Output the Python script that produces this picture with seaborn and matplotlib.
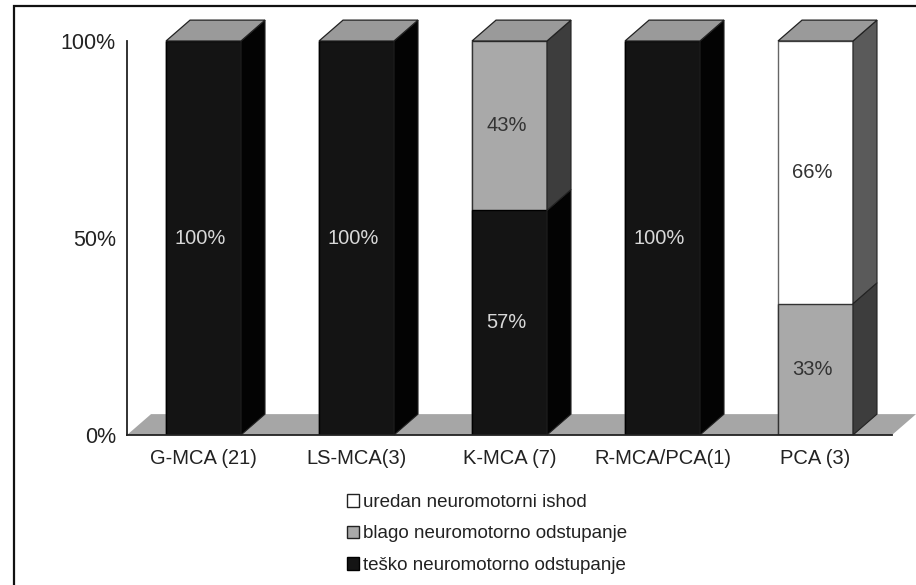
import numpy as np
import pandas as pd
import matplotlib.pyplot as plt
import seaborn as sns
from matplotlib.patches import Polygon, Patch, Rectangle

categories = ['G-MCA (21)', 'LS-MCA(3)', 'K-MCA (7)', 'R-MCA/PCA(1)', 'PCA (3)']
tesko = [100, 100, 57, 100, 0]
blago = [0, 0, 43, 0, 33]
uredan = [0, 0, 0, 0, 66]
series_names = ['uredan neuromotorni ishod', 'blago neuromotorno odstupanje', 'teško neuromotorno odstupanje']

sns.set_style('white')
plt.rcParams['font.family'] = ['Liberation Sans', 'DejaVu Sans']

df = pd.DataFrame({'kat': categories, 'tesko': tesko, 'blago': blago, 'uredan': uredan})
total = df[['tesko', 'blago', 'uredan']].sum(axis=1)
# 100% stacked, like excel does it
df['p_tesko'] = df['tesko'] / total * 100
df['p_blago'] = df['blago'] / total * 100
df['p_uredan'] = df['uredan'] / total * 100
df['c1'] = df['p_tesko']
df['c2'] = df['c1'] + df['p_blago']
df['c3'] = df['c2'] + df['p_uredan']

fig = plt.figure(figsize=(9.16, 5.85), dpi=100)
ax = fig.add_axes([127 / 916, 150 / 585, 765 / 916, 394 / 585])

bar_w = 0.49
dx = 0.157   # depth in category units
dy = 5.3     # depth in percent units

# floor
floor = Polygon([[-0.5, 0], [4.5, 0], [4.5 + dx, dy], [-0.5 + dx, dy]], closed=True,
                facecolor='#a6a6a6', edgecolor='none', zorder=0.5, clip_on=False)
ax.add_patch(floor)

sns.barplot(x='kat', y='c3', data=df, color='white', edgecolor='#666666', linewidth=1.0,
            width=bar_w, saturation=1, ax=ax, zorder=2)
sns.barplot(x='kat', y='c2', data=df, color='#a9a9a9', edgecolor='#333333', linewidth=1.0,
            width=bar_w, saturation=1, ax=ax, zorder=2)
sns.barplot(x='kat', y='c1', data=df, color='#141414', edgecolor='#000000', linewidth=1.0,
            width=bar_w, saturation=1, ax=ax, zorder=2)

side_cols = {'tesko': '#030303', 'blago': '#3d3d3d', 'uredan': '#5a5a5a'}
text_cols = {'tesko': '#d8d8d8', 'blago': '#333333', 'uredan': '#333333'}

for i, row in df.iterrows():
    x1 = i + bar_w / 2
    x0 = i - bar_w / 2
    bottom = 0
    for key in ['tesko', 'blago', 'uredan']:
        h = row['p_' + key]
        if h <= 0:
            continue
        side = Polygon([[x1, bottom], [x1, bottom + h], [x1 + dx, bottom + h + dy], [x1 + dx, bottom + dy]],
                       closed=True, facecolor=side_cols[key], edgecolor='#222222', linewidth=0.8,
                       zorder=2.5, clip_on=False)
        ax.add_patch(side)
        ax.text(i - 0.02, bottom + h / 2, f'{row[key]:.0f}%', ha='center', va='center',
                fontsize=14.5, color=text_cols[key], zorder=4)
        bottom += h
    top = Polygon([[x0, bottom], [x1, bottom], [x1 + dx, bottom + dy], [x0 + dx, bottom + dy]],
                  closed=True, facecolor='#9a9a9a', edgecolor='#222222', linewidth=0.9,
                  zorder=2.5, clip_on=False)
    ax.add_patch(top)

ax.set_xlim(-0.5, 4.5)
ax.set_ylim(0, 100)
ax.set_xlabel('')
ax.set_ylabel('')
ax.set_yticks([0, 50, 100])
ax.set_yticklabels(['0%', '50%', '100%'], fontsize=15.5, color='#222222')
ax.set_xticks(range(len(categories)))
ax.set_xticklabels(categories, fontsize=14.5, color='#222222')
ax.set_xticks(np.arange(-0.5, 5), minor=True)
ax.tick_params(axis='x', which='major', length=0, pad=10)
ax.tick_params(axis='x', which='minor', length=6, direction='out', width=1.2, color='#222222')
ax.tick_params(axis='y', length=5, direction='out', width=1.2, color='#222222', pad=3)
sns.despine(ax=ax, top=True, right=True)
for s in ['left', 'bottom']:
    ax.spines[s].set_color('#222222')
    ax.spines[s].set_linewidth(1.3)
    ax.spines[s].set_zorder(3)

handles = [Patch(facecolor='white', edgecolor='#222222'),
           Patch(facecolor='#a9a9a9', edgecolor='#222222'),
           Patch(facecolor='#141414', edgecolor='#000000')]
fig.legend(handles, series_names, loc='center', bbox_to_anchor=(487 / 916, 1 - 534 / 585),
           frameon=False, fontsize=13.5, handlelength=0.65, handleheight=0.65,
           handletextpad=0.25, labelspacing=0.78, labelcolor='#222222')

# outer frame of the picture
fig.add_artist(Rectangle((14 / 916, -0.1), 1.2, 1.1 - 6 / 585, transform=fig.transFigure,
                         fill=False, edgecolor='#111111', linewidth=1.6))

plt.savefig('out.png', dpi=100)
